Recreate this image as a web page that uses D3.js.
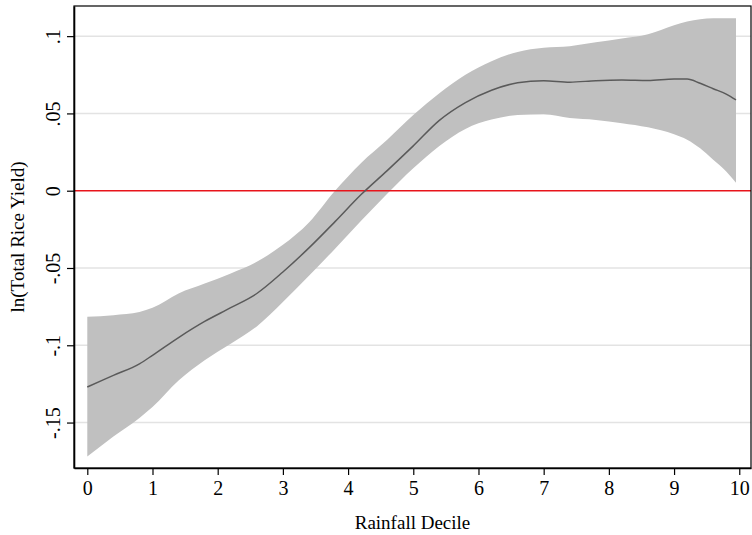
<!DOCTYPE html>
<html>
<head>
<meta charset="utf-8">
<script src="https://cdn.jsdelivr.net/npm/d3@7"></script>
<style>
  body { margin: 0; background: #fff; }
  text { font-family: "Liberation Serif", "Times New Roman", serif; fill: #000; }
</style>
</head>
<body>
<div id="chart-area"></div>
<script>
// rainfall decile grid
var decile = [0, 0.4, 0.8, 1.0, 1.4, 1.8, 2.2, 2.6, 3.0, 3.4, 3.8, 4.2, 4.6, 5.0, 5.4,
    5.8, 6.2, 6.6, 7.0, 7.4, 7.8, 8.2, 8.6, 9.0, 9.2, 9.4, 9.6, 9.8, 9.95];

// fitted ln(total rice yield)
var fit = [-0.127, -0.1195, -0.112, -0.1065, -0.095, -0.0846, -0.0757, -0.0665, -0.0526, -0.037,
    -0.020, -0.0025, 0.013, 0.029, 0.0455, 0.057, 0.065, 0.0698, 0.0712, 0.0702,
    0.0712, 0.0716, 0.0713, 0.0722, 0.0722, 0.0695, 0.066, 0.0625, 0.0587];

// confidence band
var upper = [-0.0815, -0.0805, -0.0785, -0.0758, -0.0665, -0.0601, -0.0535, -0.046, -0.035, -0.0205,
    0.0, 0.018, 0.033, 0.049, 0.063, 0.075, 0.0838, 0.0898, 0.0925, 0.0935,
    0.096, 0.0985, 0.1012, 0.107, 0.1094, 0.111, 0.1115, 0.1115, 0.1115];
var lower = [-0.172, -0.159, -0.147, -0.140, -0.1228, -0.1097, -0.099, -0.0878, -0.072, -0.055,
    -0.0375, -0.0195, -0.002, 0.0145, 0.029, 0.040, 0.046, 0.049, 0.0495, 0.047,
    0.0458, 0.0437, 0.041, 0.0365, 0.033, 0.0274, 0.020, 0.0125, 0.0052];

var xTicks = [0, 1, 2, 3, 4, 5, 6, 7, 8, 9, 10];
var yTicks = [-0.15, -0.1, -0.05, 0, 0.05, 0.1];
var yTickLabels = ["-.15", "-.1", "-.05", "0", ".05", ".1"];

var data = decile.map(function(d, i) {
    return { x: d, fit: fit[i], hi: upper[i], lo: lower[i] };
});

var width = 752, height = 535;
var plotL = 74, plotR = 751, plotT = 6, plotB = 468;

var svg = d3.select("#chart-area").append("svg")
    .attr("width", width)
    .attr("height", height);

var x = d3.scaleLinear()
    .domain([-0.204, 10.18])
    .range([plotL, plotR]);

var y = d3.scaleLinear()
    .domain([-0.1794, 0.1195])
    .range([plotB, plotT]);

// gridlines
svg.append("g")
    .selectAll("line")
    .data(yTicks.filter(function(t){ return t !== 0; }))
    .enter()
    .append("line")
    .attr("x1", plotL)
    .attr("x2", plotR)
    .attr("y1", function(d){ return y(d); })
    .attr("y2", function(d){ return y(d); })
    .attr("stroke", "#e3e3e3")
    .attr("stroke-width", 1.5);

// band
var area = d3.area()
    .x(function(d){ return x(d.x); })
    .y0(function(d){ return y(d.lo); })
    .y1(function(d){ return y(d.hi); })
    .curve(d3.curveMonotoneX);

svg.append("path")
    .datum(data)
    .attr("d", area)
    .attr("fill", "#c0c0c0");

// zero line
svg.append("line")
    .attr("x1", plotL)
    .attr("x2", plotR)
    .attr("y1", y(0))
    .attr("y2", y(0))
    .attr("stroke", "#e8141b")
    .attr("stroke-width", 1.6);

// fitted line
var line = d3.line()
    .x(function(d){ return x(d.x); })
    .y(function(d){ return y(d.fit); })
    .curve(d3.curveMonotoneX);

svg.append("path")
    .datum(data)
    .attr("d", line)
    .attr("fill", "none")
    .attr("stroke", "#5a5a5a")
    .attr("stroke-width", 1.5);

// frame
svg.append("rect")
    .attr("x", plotL)
    .attr("y", plotT)
    .attr("width", plotR - plotL)
    .attr("height", plotB - plotT)
    .attr("fill", "none")
    .attr("stroke", "#000")
    .attr("stroke-width", 1.2);

// axes
var xAxis = d3.axisBottom(x)
    .tickValues(xTicks)
    .tickSize(7)
    .tickSizeOuter(0)
    .tickPadding(6)
    .tickFormat(d3.format("d"));

var gx = svg.append("g")
    .attr("transform", "translate(0," + plotB + ")")
    .call(xAxis);
gx.select(".domain").attr("stroke-width", 1.6);
gx.selectAll(".tick line").attr("stroke-width", 1.2);
gx.selectAll("text")
    .attr("font-family", "Liberation Serif")
    .attr("font-size", 20);

var yAxis = d3.axisLeft(y)
    .tickValues(yTicks)
    .tickSize(7)
    .tickSizeOuter(0)
    .tickFormat(function(d, i){ return yTickLabels[i]; });

var gy = svg.append("g")
    .attr("transform", "translate(" + plotL + ",0)")
    .call(yAxis);
gy.select(".domain").attr("stroke-width", 1.6);
gy.selectAll(".tick line").attr("stroke-width", 1.2);
gy.selectAll("text")
    .attr("font-family", "Liberation Serif")
    .attr("font-size", 20)
    .attr("x", null)
    .attr("dy", null)
    .attr("text-anchor", "middle")
    .attr("transform", "translate(-14,0) rotate(-90)");

// titles
svg.append("text")
    .attr("x", (plotL + plotR) / 2)
    .attr("y", 529)
    .attr("text-anchor", "middle")
    .attr("font-size", 19)
    .text("Rainfall Decile");

svg.append("text")
    .attr("transform", "translate(24," + ((plotT + plotB) / 2) + ") rotate(-90)")
    .attr("text-anchor", "middle")
    .attr("font-size", 19)
    .text("ln(Total Rice Yield)");
</script>
</body>
</html>
